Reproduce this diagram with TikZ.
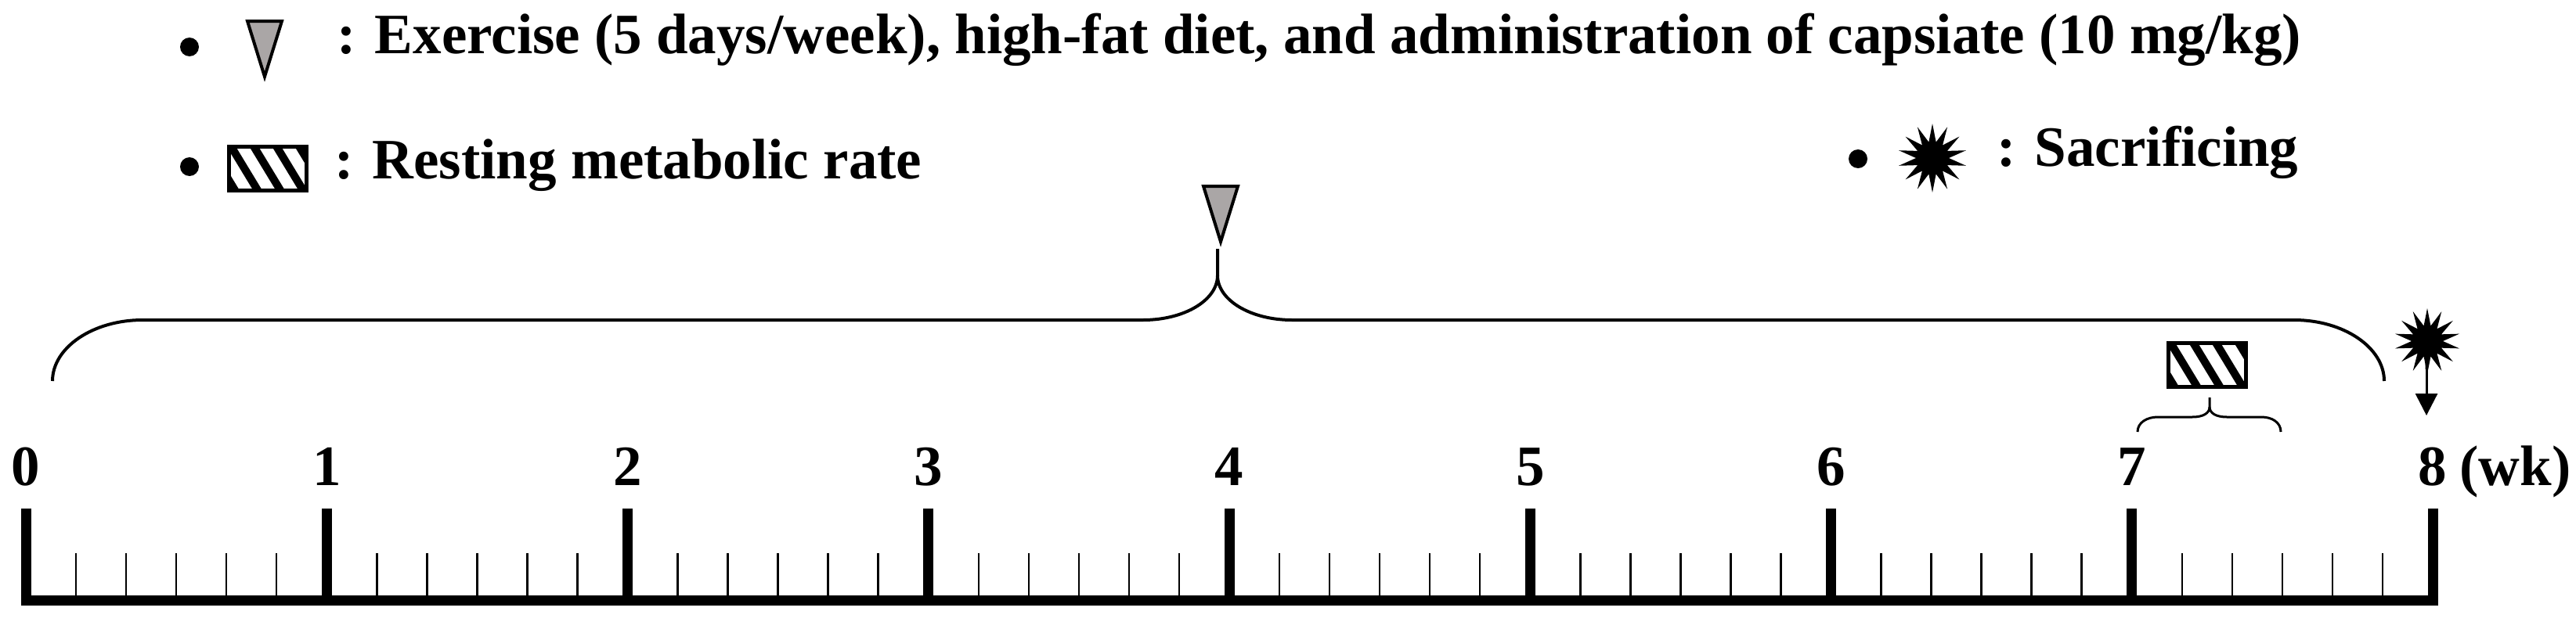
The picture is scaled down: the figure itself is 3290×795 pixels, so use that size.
\documentclass[tikz,border=0pt]{standalone}
\usepackage{fontspec}
\setmainfont{Liberation Serif}
\usetikzlibrary{shapes.geometric,arrows.meta}
\newcommand\figfont{\fontsize{73}{88}\selectfont\bfseries}
\definecolor{trigray}{RGB}{170,166,166}
\tikzset{
  lab/.style={font=\figfont, inner sep=0pt},
  bul/.style={circle, fill=black, draw=none, inner sep=0pt, minimum size=24pt},
  boom/.style={star, star points=14, star point ratio=2.1, fill=black, draw=none, inner sep=0pt, minimum size=88pt},
  axisline/.style={line width=13pt, line cap=butt},
  majtick/.style={line width=13pt, line cap=butt},
  mintick/.style={line width=2.5pt, line cap=butt},
  bracepath/.style={line width=4pt, line cap=butt},
  hatchbox/.pic={
    \begin{scope}
      \clip (0,0) rectangle (99,56);
      \foreach \k in {-2,...,4} { \draw[line width=10pt] ({\k*29},-5) -- ++(40,66); }
    \end{scope}
    \draw[line width=5pt] (0,0) rectangle (99,56);
  },
  tri/.pic={
    \draw[fill=trigray, line width=4pt, line join=miter] (-22,0) -- (22,0) -- (0,71) -- cycle;
  }
}
\begin{document}
\begin{tikzpicture}[x=1pt,y=-1pt]
\path[use as bounding box] (0,0) rectangle (3290,795);

% ---------- legend ----------
\node[bul] (b1) at (242,60) {};
\pic (legtri) at (338,27) {tri};
\node[lab, anchor=base west] (txt1) at (430,68) {: Exercise (5 days/week), high-fat diet, and administration of capsiate (10 mg/kg)};

\node[bul] (b2) at (242,213) {};
\pic (leghatch) at (292,187) {hatchbox};
\node[lab, anchor=base west] (txt2) at (427,228) {: Resting metabolic rate};

\node[bul] (b3) at (2373,203) {};
\node[boom] (legstar) at (2468,202) {};
\node[lab, anchor=base west] (txt3) at (2550,212) {: Sacrificing};

% ---------- big brace with marker ----------
\pic (marktri) at (1559,238) {tri};
\draw[bracepath] (67,487) .. controls (67,444) and (119,409) .. (182,409)
  -- (1460,409) .. controls (1512,409) and (1555,384) .. (1555,352) -- (1555,318);
\draw[bracepath] (1555,352) .. controls (1555,384) and (1598,409) .. (1650,409)
  -- (2930,409) .. controls (2993,409) and (3045,444) .. (3045,487);

% ---------- small brace with hatched box ----------
\pic (rmrbox) at (2769,438) {hatchbox};
\draw[line width=3pt] (2730,552) .. controls (2730,540) and (2742,533) .. (2756,533)
  -- (2800,533) .. controls (2814,533) and (2822,528) .. (2822,520) -- (2822,508);
\draw[line width=3pt] (2822,520) .. controls (2822,528) and (2830,533) .. (2844,533)
  -- (2888,533) .. controls (2902,533) and (2913,540) .. (2913,552);

% ---------- sacrifice marker ----------
\coordinate (arrtip) at (3099,531);
\draw[line width=3pt, -{Triangle[length=28pt,width=28pt]}] (3099,470) -- (arrtip);
\node[boom, minimum size=84pt] (sacstar) at (3100,436) {};
\draw[line width=3pt] (sacstar.center) -- (3099,472);

% ---------- time axis ----------
\foreach \i in {0,...,8} {
  \coordinate (t\i) at ({33+384.25*\i},767);
  \draw[majtick] (t\i) -- ++(0,-117);
  \node[lab, anchor=base] (l\i) at ({33+384.25*\i},620) {\i};
}
\foreach \i in {0,...,7} {
  \foreach \j in {1,...,5} {
    \draw[mintick] ({33+384.25*\i+64.04*\j},767) -- ++(0,-60);
  }
}
\draw[axisline] ([xshift=-6.5pt]t0) -- ([xshift=6.5pt]t8);
\node[lab, anchor=base west] (wk) at ([xshift=16pt]l8.base east) {(wk)};
\end{tikzpicture}
\end{document}
